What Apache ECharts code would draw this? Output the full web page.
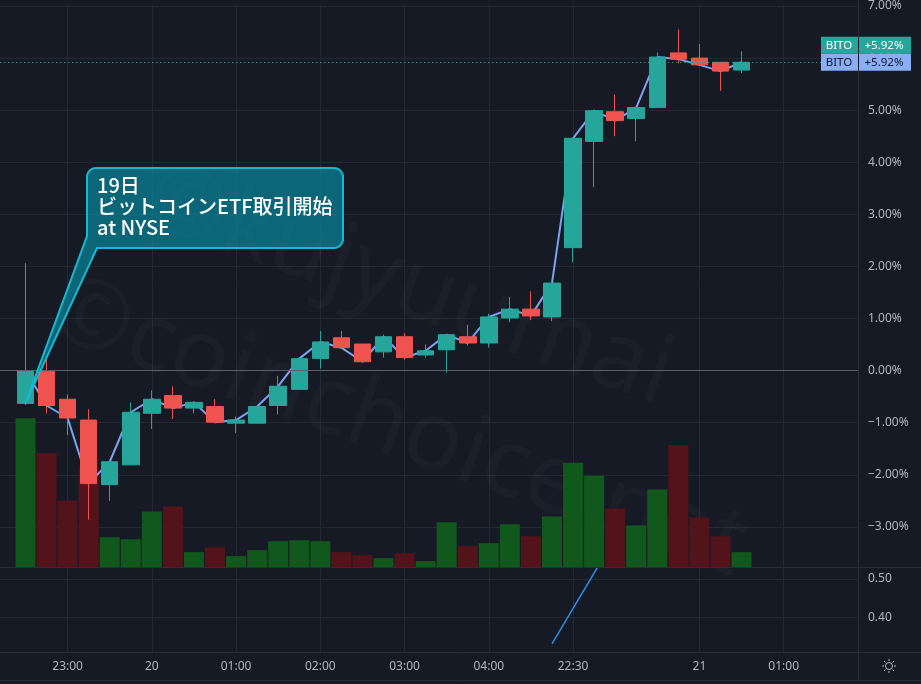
<!DOCTYPE html>
<html>
<head>
<meta charset="utf-8">
<script src="https://cdn.jsdelivr.net/npm/echarts@6/dist/echarts.min.js"></script>
<style>
html, body { margin: 0; padding: 0; background: #161a25; }
#chart { width: 921px; height: 684px; }
</style>
</head>
<body>
<div id="chart"></div>
<script>
// 15分足 (JST) 19日 22:30 〜 21日 00:30
const times = [
  '22:30', '22:45', '23:00', '23:15', '23:30', '23:45',
  '00:00', '00:15', '00:30', '00:45', '01:00', '01:15', '01:30', '01:45',
  '02:00', '02:15', '02:30', '02:45', '03:00', '03:15', '03:30', '03:45',
  '04:00', '04:15', '04:30', '04:45',
  '22:30', '22:45', '23:00', '23:15', '23:30', '23:45', '00:00', '00:15', '00:30'
]
// 値は初値比 %
const opens = [-0.63, -0.02, -0.55, -0.95, -2.19, -1.81, -0.82, -0.48, -0.72, -0.69, -1.01, -1.01, -0.67, -0.36, 0.23, 0.63, 0.51, 0.36, 0.65, 0.30, 0.40, 0.65, 0.53, 1.01, 1.18, 1.03, 2.36, 4.40, 4.97, 4.84, 5.05, 6.10, 6.00, 5.92, 5.77]
const closes = [0.00, -0.67, -0.91, -2.17, -1.75, -0.80, -0.55, -0.72, -0.61, -0.99, -0.95, -0.69, -0.30, 0.23, 0.55, 0.44, 0.17, 0.65, 0.25, 0.38, 0.69, 0.53, 1.03, 1.18, 1.05, 1.68, 4.46, 4.99, 4.80, 5.05, 6.02, 5.98, 5.87, 5.75, 5.92]
const highs = [2.06, 0.25, -0.46, -0.74, -1.71, -0.61, -0.38, -0.30, -0.59, -0.55, -0.88, -0.69, -0.10, 0.23, 0.76, 0.76, 0.51, 0.69, 0.72, 0.50, 0.70, 0.88, 1.09, 1.41, 1.52, 1.70, 4.46, 5.01, 5.30, 5.07, 6.11, 6.55, 6.27, 5.92, 6.13]
const lows = [-0.66, -0.82, -1.24, -2.86, -2.50, -1.81, -1.12, -0.93, -0.82, -1.01, -1.20, -1.01, -0.84, -0.36, 0.04, 0.42, 0.17, 0.25, 0.21, 0.25, -0.04, 0.48, 0.44, 0.93, 0.97, 0.95, 2.08, 3.52, 4.50, 4.40, 5.05, 5.90, 5.85, 5.37, 5.71]
// 出来高 (千株)
const volumes = [3525, 2703, 1575, 2350, 705, 658, 1316, 1434, 353, 470, 259, 400, 611, 635, 611, 353, 282, 212, 329, 141, 1058, 494, 564, 1011, 729, 1199, 2468, 2162, 1387, 987, 1833, 2891, 1175, 729, 353]
// 下段インジケーター
const lowerIdx = [25, 26, 27, 28]
const lowerVals = [0.331, 0.423, 0.515, 0.608]

const timeTicks = [2, 6, 10, 14, 18, 22, 26, 32, 36]
const timeLabels = ['23:00', '20', '01:00', '02:00', '03:00', '04:00', '22:30', '21', '01:00']
const pctTicks = [-3, -2, -1, 0, 1, 2, 3, 4, 5, 6, 7]
const lowerTicks = [0.4, 0.5]

const symbol = 'BITO'
const lastClose = closes[closes.length - 1]

const UP = '#26a69a'
const DOWN = '#ef5350'
const GRID = '#242833'
const BORDER = '#2a2e39'
const TEXT = '#b2b5be'
const FONT = 'Noto Sans'

const chart = echarts.init(document.getElementById('chart'))

const pctLabel = (v) => (v < 0 ? '\u2212' : '') + Math.abs(v).toFixed(2) + '%'

const xBase = {
  type: 'value',
  min: -1.21,
  max: 39.53,
  axisLine: { show: false },
  axisTick: { show: false, customValues: timeTicks },
  splitLine: { show: true, lineStyle: { color: GRID, width: 1 } }
}

const options = {
  backgroundColor: '#161a25',
  animation: false,
  grid: [
    { left: 0, top: 0, width: 858, height: 567 },
    { left: 0, top: 568, width: 858, height: 84 }
  ],
  xAxis: [
    Object.assign({}, xBase, { gridIndex: 0, axisLabel: { show: false } }),
    Object.assign({}, xBase, {
      gridIndex: 1,
      axisLabel: {
        show: true,
        customValues: timeTicks,
        margin: 9,
        color: TEXT,
        fontSize: 12,
        fontFamily: FONT,
        formatter: (v) => timeLabels[timeTicks.indexOf(Math.round(v))] || ''
      }
    })
  ],
  yAxis: [
    {
      gridIndex: 0,
      type: 'value',
      position: 'right',
      min: -3.771,
      max: 7.029,
      axisLine: { show: false },
      axisTick: { show: false, customValues: pctTicks },
      axisLabel: {
        customValues: pctTicks,
        margin: 10,
        color: TEXT,
        fontSize: 12,
        fontFamily: FONT,
        formatter: pctLabel
      },
      splitLine: { show: true, lineStyle: { color: GRID } }
    },
    {
      gridIndex: 0,
      type: 'value',
      min: 0,
      max: 13325,
      show: false,
      splitLine: { show: false }
    },
    {
      gridIndex: 1,
      type: 'value',
      position: 'right',
      min: 0.31,
      max: 0.528,
      axisLine: { show: false },
      axisTick: { show: false, customValues: lowerTicks },
      axisLabel: {
        customValues: lowerTicks,
        margin: 10,
        color: TEXT,
        fontSize: 12,
        fontFamily: FONT,
        formatter: (v) => v.toFixed(2)
      },
      splitLine: { show: true, lineStyle: { color: GRID } }
    }
  ],
  series: [
    {
      name: 'volume',
      type: 'bar',
      xAxisIndex: 0,
      yAxisIndex: 1,
      barWidth: 20,
      silent: true,
      z: 1,
      data: volumes.map((v, i) => ({
        value: [i, v],
        itemStyle: { color: closes[i] >= opens[i] ? '#10581b' : '#52131b' }
      }))
    },
    {
      name: 'close',
      type: 'line',
      xAxisIndex: 0,
      yAxisIndex: 0,
      symbol: 'none',
      silent: true,
      z: 2,
      lineStyle: { color: '#7ca2f2', width: 2 },
      data: closes.map((c, i) => [i, c])
    },
    {
      name: symbol,
      type: 'candlestick',
      xAxisIndex: 0,
      yAxisIndex: 0,
      barWidth: 17,
      z: 3,
      dimensions: ['idx', 'open', 'close', 'lowest', 'highest'],
      encode: { x: 'idx', y: ['open', 'close', 'lowest', 'highest'] },
      itemStyle: {
        color: UP,
        color0: DOWN,
        borderColor: UP,
        borderColor0: DOWN,
        borderWidth: 1
      },
      data: opens.map((o, i) => [i, o, closes[i], lows[i], highs[i]]),
      markLine: {
        silent: true,
        symbol: ['none', 'none'],
        label: { show: false },
        data: [
          { yAxis: 0, lineStyle: { color: '#5d606b', type: 'solid', width: 1 } },
          { yAxis: lastClose, lineStyle: { color: UP, type: [1, 3], width: 1 } }
        ]
      }
    },
    {
      name: 'lower',
      type: 'line',
      xAxisIndex: 1,
      yAxisIndex: 2,
      symbol: 'none',
      silent: true,
      lineStyle: { color: '#2a8ee8', width: 1.5 },
      data: lowerIdx.map((x, k) => [x, lowerVals[k]])
    }
  ]
}

chart.setOption(options)

// 吹き出し・ラベル類
const tip = chart.convertToPixel({ xAxisIndex: 0, yAxisIndex: 0 }, [0, opens[0]])
const lastY = chart.convertToPixel({ yAxisIndex: 0 }, lastClose)

function calloutPoints(l, t, r, b, rad, tipPt) {
  const pts = [tipPt, [l, b - 12]]
  const arc = (cx, cy, a0, a1) => {
    for (let k = 0; k <= 8; k++) {
      const a = (a0 + (a1 - a0) * k / 8) * Math.PI / 180
      pts.push([cx + rad * Math.cos(a), cy + rad * Math.sin(a)])
    }
  }
  arc(l + rad, t + rad, 180, 270)
  arc(r - rad, t + rad, 270, 360)
  arc(r - rad, b - rad, 0, 90)
  pts.push([l + 10, b])
  return pts
}

const watermark = (text, x, y) => ({
  type: 'text',
  x: x,
  y: y,
  rotation: -0.34,
  silent: true,
  z: 1,
  style: {
    text: text,
    fill: 'rgba(255,255,255,0.022)',
    fontSize: 96,
    fontFamily: FONT,
    verticalAlign: 'top'
  }
})

const priceTag = (y, bg, fg) => [
  {
    type: 'rect',
    z: 60,
    shape: { x: 821, y: y - 8.5, width: 90, height: 17 },
    style: { fill: bg }
  },
  {
    type: 'line',
    z: 61,
    shape: { x1: 858.5, y1: y - 8.5, x2: 858.5, y2: y + 8.5 },
    style: { stroke: '#161a25', lineWidth: 1 }
  },
  {
    type: 'text',
    z: 62,
    style: { text: symbol, x: 839, y: y, fill: fg, fontSize: 11.5, fontFamily: FONT, align: 'center', verticalAlign: 'middle' }
  },
  {
    type: 'text',
    z: 62,
    style: { text: '+' + lastClose.toFixed(2) + '%', x: 884, y: y, fill: fg, fontSize: 11.5, fontFamily: FONT, align: 'center', verticalAlign: 'middle' }
  }
]

const sun = [{
  type: 'circle',
  z: 60,
  shape: { cx: 889, cy: 666, r: 3.5 },
  style: { fill: 'none', stroke: TEXT, lineWidth: 1 }
}]
for (let k = 0; k < 8; k++) {
  const a = k * Math.PI / 4
  sun.push({
    type: 'line',
    z: 60,
    shape: {
      x1: 889 + 5 * Math.cos(a), y1: 666 + 5 * Math.sin(a),
      x2: 889 + 7 * Math.cos(a), y2: 666 + 7 * Math.sin(a)
    },
    style: { stroke: TEXT, lineWidth: 1 }
  })
}

const border = (x1, y1, x2, y2) => ({
  type: 'line',
  z: 40,
  silent: true,
  shape: { x1: x1, y1: y1, x2: x2, y2: y2 },
  style: { stroke: BORDER, lineWidth: 1 }
})

chart.setOption({
  graphic: [
    watermark('\u00a9kujyuumai', 165, 150),
    watermark('\u00a9coinchoice.net', 70, 262),
    border(858.5, 0, 858.5, 681),
    border(0, 567.5, 921, 567.5),
    border(0, 652.5, 921, 652.5),
    border(0, 680.5, 921, 680.5),
    {
      type: 'polygon',
      z: 50,
      shape: { points: calloutPoints(87, 168, 343, 248, 9, tip) },
      style: { fill: 'rgba(5,150,170,0.62)', stroke: '#1ab8d0', lineWidth: 2 }
    },
    {
      type: 'text',
      z: 51,
      style: {
        text: '19日\nビットコインETF取引開始\nat NYSE',
        x: 97,
        y: 175,
        fill: '#ffffff',
        fontSize: 20,
        fontWeight: 500,
        lineHeight: 21,
        fontFamily: '"Noto Sans CJK JP"',
        verticalAlign: 'top'
      }
    },
    ...priceTag(lastY - 17, UP, '#ffffff'),
    ...priceTag(lastY, '#8aaef5', '#131722'),
    ...sun
  ]
})
</script>
</body>
</html>
